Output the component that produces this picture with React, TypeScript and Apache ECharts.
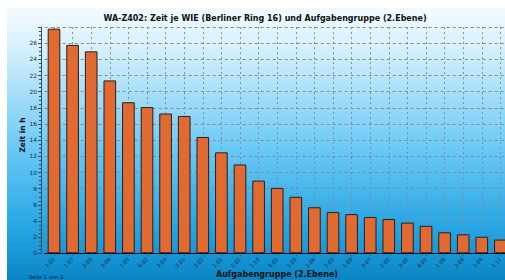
import React, { useEffect, useRef } from "react";
import * as echarts from "echarts";

const categories = [
  "1.02", "1.07", "2.03", "3.06", "1.05", "6.02", "3.03", "2.01", "3.01", "1.01",
  "5.01", "1.10", "8.01", "1.03", "1.06", "3.02", "1.09", "3.07", "2.02", "3.05",
  "6.03", "1.08", "3.04", "1.04", "1.11",
];
const hours = [
  27.8, 25.8, 25.0, 21.4, 18.7, 18.1, 17.3, 17.0, 14.4, 12.5,
  11.0, 9.0, 8.1, 7.0, 5.7, 5.1, 4.85, 4.5, 4.25, 3.8,
  3.4, 2.6, 2.35, 2.05, 1.7,
];
const titleText = "WA-Z402: Zeit je WIE (Berliner Ring 16) und Aufgabengruppe (2.Ebene)";
const yName = "Zeit in h";
const xName = "Aufgabengruppe (2.Ebene)";
const pageText = "Seite 1 von 2";

export default function App() {
  const ref = useRef<HTMLDivElement>(null);
  useEffect(() => {
    if (!ref.current) return;
    const chart = echarts.init(ref.current, null, { renderer: "svg" });
    const font = "'DejaVu Sans', Verdana, sans-serif";
    chart.setOption({
      animation: false,
      backgroundColor: "#ffffff",
      graphic: [
        {
          type: "rect",
          z: -10,
          silent: true,
          shape: { x: 7, y: 8, width: 498, height: 272 },
          style: {
            fill: new echarts.graphic.LinearGradient(0, 0, 0, 1, [
              { offset: 0, color: "#f4fbff" },
              { offset: 0.15, color: "#d6f0fd" },
              { offset: 0.5, color: "#6fcbf7" },
              { offset: 0.8, color: "#27a6e4" },
              { offset: 1, color: "#0a86c6" },
            ]),
          },
        },
        {
          type: "text",
          x: 265,
          y: 18,
          style: {
            text: titleText,
            fontFamily: font,
            fontWeight: "bold",
            fontSize: 8,
            fill: "#111",
            textAlign: "center",
            textVerticalAlign: "middle",
          },
        },
        {
          type: "text",
          x: 277,
          y: 274,
          style: {
            text: xName,
            fontFamily: font,
            fontWeight: "bold",
            fontSize: 8,
            fill: "#111",
            textAlign: "center",
            textVerticalAlign: "middle",
          },
        },
        {
          type: "text",
          x: 22,
          y: 135,
          rotation: Math.PI / 2,
          style: {
            text: yName,
            fontFamily: font,
            fontWeight: "bold",
            fontSize: 7.5,
            fill: "#111",
            textAlign: "center",
            textVerticalAlign: "middle",
          },
        },
        {
          type: "text",
          x: 29,
          y: 276.5,
          style: {
            text: pageText,
            fontFamily: font,
            fontSize: 5.2,
            fill: "#112",
            textAlign: "left",
            textVerticalAlign: "middle",
          },
        },
      ],
      grid: {
        left: 44.7,
        top: 27.1,
        width: 465,
        height: 226.2,
        containLabel: false,
        outerBoundsMode: "none",
      },
      xAxis: {
        type: "category",
        data: categories,
        boundaryGap: true,
        axisLine: { show: true, lineStyle: { color: "#000", width: 1 } },
        axisTick: { show: true, alignWithLabel: true, length: 3, lineStyle: { color: "#2a6a90" } },
        axisLabel: {
          rotate: 45,
          interval: 0,
          fontFamily: font,
          fontSize: 5.2,
          color: "#1a2a3a",
          margin: 5,
        },
        splitLine: {
          show: true,
          alignWithLabel: true,
          lineStyle: { color: "#7f8c98", type: [2, 3], width: 1 },
        },
      },
      yAxis: {
        type: "value",
        min: 0,
        max: 28,
        interval: 2,
        offset: 3.7,
        axisLine: { show: true, lineStyle: { color: "#30505f", width: 1 } },
        axisTick: { show: true, length: 3, lineStyle: { color: "#30505f" } },
        minorTick: { show: true, splitNumber: 4, length: 2, lineStyle: { color: "#30505f" } },
        axisLabel: {
          showMaxLabel: false,
          fontFamily: font,
          fontSize: 5.8,
          color: "#1a2a3a",
          margin: 4,
        },
        splitLine: {
          show: true,
          lineStyle: { color: "#7f8c98", type: [3, 3], width: 1 },
        },
      },
      series: [
        {
          type: "bar",
          data: hours,
          barWidth: "68%",
          itemStyle: { color: "#e2692f", borderColor: "#222222", borderWidth: 1 },
        },
      ],
    });
    return () => chart.dispose();
  }, []);
  return (
    <div
      ref={ref}
      style={{ position: "fixed", left: 0, top: 0, width: 505, height: 280 }}
    />
  );
}
